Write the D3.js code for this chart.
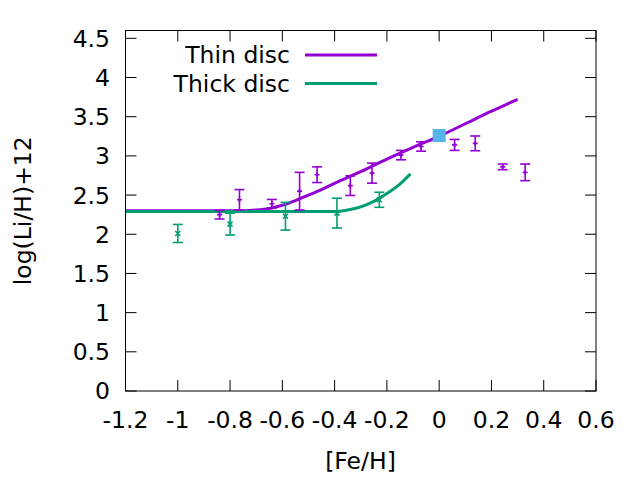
<!DOCTYPE html>
<html>
<head>
<meta charset="utf-8">
<script src="https://cdn.jsdelivr.net/npm/d3@7"></script>
<style>
  body { margin: 0; background: #fff; }
  svg { display: block; font-family: "DejaVu Sans", sans-serif; }
</style>
</head>
<body>
<div id="chart"></div>
<script>
// Li abundance vs metallicity: thin/thick disc models and observed bins

// model curves
const thinModelFe = [-1.2, -1.0, -0.8, -0.75, -0.7, -0.65, -0.6, -0.55, -0.5, -0.45, -0.4, -0.3, -0.2, -0.1, 0.0, 0.1, 0.2, 0.3];
const thinModelLi = [2.30, 2.30, 2.30, 2.30, 2.31, 2.33, 2.37, 2.43, 2.50, 2.57, 2.65, 2.80, 2.96, 3.11, 3.25, 3.41, 3.57, 3.72];
const thickModelFe = [-1.2, -1.0, -0.8, -0.6, -0.45, -0.4, -0.35, -0.3, -0.25, -0.2, -0.15, -0.11];
const thickModelLi = [2.29, 2.29, 2.29, 2.29, 2.29, 2.29, 2.31, 2.35, 2.42, 2.52, 2.64, 2.77];

// observed bins with error bars
const thinFe  = [-0.84, -0.764, -0.64, -0.534, -0.467, -0.34, -0.257, -0.146, -0.069, 0.059, 0.138, 0.243, 0.329];
const thinLi  = [2.25, 2.44, 2.39, 2.55, 2.76, 2.62, 2.78, 3.01, 3.12, 3.14, 3.16, 2.86, 2.79];
const thinErr = [0.055, 0.13, 0.054, 0.24, 0.10, 0.125, 0.128, 0.06, 0.06, 0.07, 0.094, 0.036, 0.106];

const thickFe  = [-1.0, -0.80, -0.588, -0.391, -0.229];
const thickLi  = [2.01, 2.13, 2.23, 2.27, 2.44];
const thickErr = [0.115, 0.14, 0.177, 0.19, 0.096];

// solar (meteoritic) value
const sunFe = [0.0];
const sunLi = [3.26];

const xTicks = [-1.2, -1, -0.8, -0.6, -0.4, -0.2, 0, 0.2, 0.4, 0.6];
const yTicks = [0, 0.5, 1, 1.5, 2, 2.5, 3, 3.5, 4, 4.5];

const legendNames = ['Thin disc', 'Thick disc'];
const purple = '#9400d3', green = '#009e73', blue = '#56b4e9';

const W = 640, H = 480;
const m = { left: 125.5, right: 44, top: 30.5, bottom: 89 };

const svg = d3.select('#chart').append('svg')
  .attr('width', W).attr('height', H);

const x = d3.scaleLinear().domain([-1.2, 0.6]).range([m.left, W - m.right]);
const y = d3.scaleLinear().domain([0, 4.6]).range([H - m.bottom, m.top]);

const fs = 23.5;
const fmt = d => String(+d.toFixed(1));

// axes: inward ticks, mirrored
const tickLen = 11;
const axisG = svg.append('g').attr('stroke', '#000').attr('stroke-width', 1);
axisG.selectAll('line.xb').data(xTicks).join('line')
  .attr('x1', d => x(d)).attr('x2', d => x(d))
  .attr('y1', y(0)).attr('y2', y(0) - tickLen);
axisG.selectAll('line.xt').data(xTicks).join('line')
  .attr('x1', d => x(d)).attr('x2', d => x(d))
  .attr('y1', y(4.6)).attr('y2', y(4.6) + tickLen);
axisG.selectAll('line.yl').data(yTicks).join('line')
  .attr('y1', d => y(d)).attr('y2', d => y(d))
  .attr('x1', x(-1.2)).attr('x2', x(-1.2) + tickLen);
axisG.selectAll('line.yr').data(yTicks).join('line')
  .attr('y1', d => y(d)).attr('y2', d => y(d))
  .attr('x1', x(0.6)).attr('x2', x(0.6) - tickLen);

svg.append('g').selectAll('text').data(xTicks).join('text')
  .attr('x', d => x(d)).attr('y', 428)
  .attr('text-anchor', 'middle').attr('font-size', fs)
  .text(fmt);

svg.append('g').selectAll('text').data(yTicks).join('text')
  .attr('x', 110).attr('y', d => y(d)).attr('dy', '0.36em')
  .attr('text-anchor', 'end').attr('font-size', fs)
  .text(fmt);

svg.append('text').attr('x', 360.5).attr('y', 469)
  .attr('text-anchor', 'middle').attr('font-size', fs).text('[Fe/H]');
svg.append('text')
  .attr('transform', `translate(31,${(y(0) + y(4.6)) / 2}) rotate(-90)`)
  .attr('text-anchor', 'middle').attr('font-size', fs).text('log(Li/H)+12');

// model curves
const line = d3.line().x(d => x(d[0])).y(d => y(d[1])).curve(d3.curveMonotoneX);
svg.append('path').datum(d3.zip(thinModelFe, thinModelLi))
  .attr('d', line).attr('fill', 'none').attr('stroke', purple).attr('stroke-width', 3);
svg.append('path').datum(d3.zip(thickModelFe, thickModelLi))
  .attr('d', line).attr('fill', 'none').attr('stroke', green).attr('stroke-width', 3);

// error bars
function errBars(fe, li, err, color, marker) {
  const g = svg.append('g').attr('stroke', color).attr('stroke-width', 1.6).attr('fill', 'none');
  const rows = fe.map((f, i) => ({ f, l: li[i], e: err[i] }));
  const cap = 5, s = 2.5;
  const pt = g.selectAll('g').data(rows).join('g');
  pt.append('line').attr('x1', d => x(d.f)).attr('x2', d => x(d.f))
    .attr('y1', d => y(d.l - d.e)).attr('y2', d => y(d.l + d.e));
  pt.append('line').attr('x1', d => x(d.f) - cap).attr('x2', d => x(d.f) + cap)
    .attr('y1', d => y(d.l - d.e)).attr('y2', d => y(d.l - d.e));
  pt.append('line').attr('x1', d => x(d.f) - cap).attr('x2', d => x(d.f) + cap)
    .attr('y1', d => y(d.l + d.e)).attr('y2', d => y(d.l + d.e));
  if (marker === 'plus') {
    pt.append('path').attr('d', d => `M${x(d.f) - s},${y(d.l)}h${2 * s}M${x(d.f)},${y(d.l) - s}v${2 * s}`);
  } else {
    pt.append('path').attr('d', d => `M${x(d.f) - s},${y(d.l) - s}l${2 * s},${2 * s}M${x(d.f) - s},${y(d.l) + s}l${2 * s},${-2 * s}`);
  }
}
errBars(thinFe, thinLi, thinErr, purple, 'plus');
errBars(thickFe, thickLi, thickErr, green, 'cross');

// sun
svg.append('g').selectAll('rect').data(d3.zip(sunFe, sunLi)).join('rect')
  .attr('x', d => x(d[0]) - 6.5).attr('y', d => y(d[1]) - 6.5)
  .attr('width', 13).attr('height', 13).attr('fill', blue);

// border
svg.append('rect').attr('x', x(-1.2)).attr('y', y(4.6))
  .attr('width', x(0.6) - x(-1.2)).attr('height', y(0) - y(4.6))
  .attr('fill', 'none').attr('stroke', '#000').attr('stroke-width', 1);

// legend
const leg = svg.append('g');
[purple, green].forEach((c, i) => {
  const ly = 55 + i * 28.5;
  leg.append('text').attr('x', 290).attr('y', ly).attr('dy', '0.36em')
    .attr('text-anchor', 'end').attr('font-size', fs).text(legendNames[i]);
  leg.append('line').attr('x1', 305).attr('x2', 377).attr('y1', ly).attr('y2', ly)
    .attr('stroke', c).attr('stroke-width', 3);
});
</script>
</body>
</html>
